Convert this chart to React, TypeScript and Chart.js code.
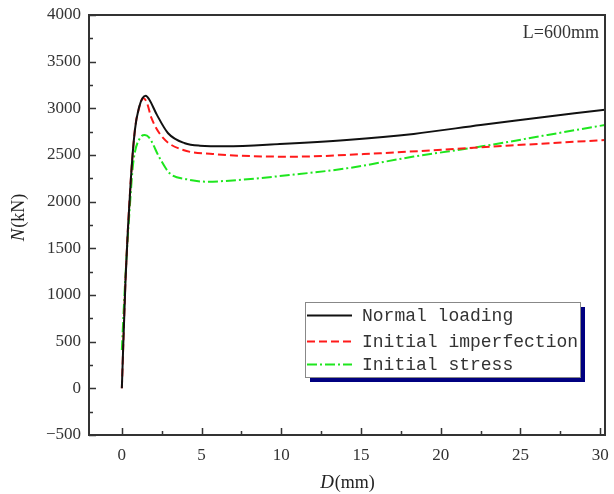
import React, { useEffect, useRef } from "react";
import { Chart, registerables } from "chart.js";

Chart.register(...registerables);

const normalD = [0, 0.23, 0.56, 0.82, 1.09, 1.3, 1.5, 1.7, 2.2, 2.9, 3.95, 4.9, 6.5, 9.9, 14.1, 18.3, 22.5, 24.6, 30.3];
const normalN = [0, 1160, 2230, 2770, 3018, 3110, 3135, 3100, 2930, 2733, 2626, 2600, 2594, 2618, 2661, 2726, 2822, 2868, 2985];

const imperfD = [0, 0.23, 0.56, 0.82, 1.09, 1.34, 1.55, 1.86, 2.6, 3.85, 5.7, 10.5, 16.2, 22.5, 30.3];
const imperfN = [0, 1160, 2230, 2770, 3010, 3108, 3070, 2894, 2680, 2554, 2511, 2482, 2519, 2583, 2661];

const stressD = [0, 0.19, 0.5, 0.71, 1.13, 1.44, 1.7, 2.38, 3.0, 4.06, 5.3, 7.5, 10.5, 14.1, 18.3, 22.5, 26.7, 30.3];
const stressN = [410, 1090, 1946, 2410, 2680, 2715, 2690, 2465, 2304, 2240, 2214, 2235, 2285, 2357, 2483, 2590, 2715, 2822];

const seriesNames = ["Normal loading", "Initial imperfection", "Initial stress"];
const xTickValues = [0, 2.5, 5, 7.5, 10, 12.5, 15, 17.5, 20, 22.5, 25, 27.5, 30];
const xMajor = [0, 5, 10, 15, 20, 25, 30];
const yMin = -500;
const yMax = 4000;
const xMin = -2.06;
const xMax = 30.3;
const noteText = "L=600mm";

const toPts = (xs: number[], ys: number[]) => xs.map((x, i) => ({ x, y: ys[i] }));

const decorPlugin = {
  id: "decor",
  afterDraw(chart: any) {
    const ctx = chart.ctx as CanvasRenderingContext2D;
    const a = chart.chartArea;
    const xs = chart.scales.x;
    const ys = chart.scales.y;
    ctx.save();
    // tick marks inward
    ctx.strokeStyle = "#333";
    ctx.lineWidth = 1.5;
    ctx.beginPath();
    for (const v of xTickValues) {
      const px = Math.round(xs.getPixelForValue(v)) + 0.5;
      const len = xMajor.includes(v) ? 7 : 4;
      ctx.moveTo(px, a.bottom);
      ctx.lineTo(px, a.bottom - len);
    }
    for (let v = yMin; v <= yMax; v += 250) {
      const py = Math.round(ys.getPixelForValue(v)) + 0.5;
      const len = v % 500 === 0 ? 7 : 4;
      ctx.moveTo(a.left, py);
      ctx.lineTo(a.left + len, py);
    }
    ctx.stroke();
    // box
    ctx.strokeStyle = "#333";
    ctx.lineWidth = 2;
    ctx.strokeRect(a.left, a.top, a.right - a.left, a.bottom - a.top);

    // axis titles
    ctx.fillStyle = "#222";
    ctx.textBaseline = "alphabetic";
    const serif = "'Liberation Serif', 'Times New Roman', serif";
    // x title
    const xt1 = "D";
    const xt2 = "(mm)";
    ctx.font = `italic 19px ${serif}`;
    const w1 = ctx.measureText(xt1).width;
    ctx.font = `18px ${serif}`;
    const w2 = ctx.measureText(xt2).width;
    const cx = (a.left + a.right) / 2;
    let sx = cx - (w1 + w2) / 2;
    ctx.font = `italic 19px ${serif}`;
    ctx.fillText(xt1, sx, 488);
    ctx.font = `18px ${serif}`;
    ctx.fillText(xt2, sx + w1 + 1, 488);
    // y title
    ctx.save();
    ctx.translate(24, 218);
    ctx.rotate(-Math.PI / 2);
    const yt1 = "N";
    const yt2 = "(kN)";
    ctx.font = `italic 19px ${serif}`;
    const v1 = ctx.measureText(yt1).width;
    ctx.font = `18px ${serif}`;
    const v2 = ctx.measureText(yt2).width;
    let sy = -(v1 + v2) / 2;
    ctx.font = `italic 19px ${serif}`;
    ctx.fillText(yt1, sy, 0);
    ctx.font = `18px ${serif}`;
    ctx.fillText(yt2, sy + v1 + 1, 0);
    ctx.restore();

    // note
    ctx.font = `18px ${serif}`;
    ctx.textAlign = "right";
    ctx.fillStyle = "#333";
    ctx.fillText(noteText, a.right - 6, 38);
    ctx.textAlign = "left";

    // legend
    const lx = 305, ly = 302, lw = 275, lh = 75;
    ctx.fillStyle = "#000080";
    ctx.fillRect(lx + 5, ly + 5, lw, lh);
    ctx.fillStyle = "#fff";
    ctx.fillRect(lx, ly, lw, lh);
    ctx.strokeStyle = "#888";
    ctx.lineWidth = 1;
    ctx.strokeRect(lx + 0.5, ly + 0.5, lw, lh);
    const rows = [315, 341, 364];
    ctx.font = "18px 'Liberation Mono', monospace";
    ctx.textBaseline = "middle";
    chart.data.datasets.forEach((ds: any, i: number) => {
      const y = rows[i];
      ctx.save();
      ctx.strokeStyle = ds.borderColor;
      ctx.lineWidth = ds.borderWidth;
      ctx.setLineDash(ds.borderDash || []);
      ctx.beginPath();
      ctx.moveTo(307, y + 0.5);
      ctx.lineTo(352, y + 0.5);
      ctx.stroke();
      ctx.restore();
      ctx.fillStyle = "#333";
      ctx.fillText(ds.label, 362, y + 1);
    });
    ctx.restore();
  },
};

export default function App() {
  const ref = useRef<HTMLCanvasElement | null>(null);
  useEffect(() => {
    document.body.style.margin = "0";
    const canvas = ref.current;
    if (!canvas) return;
    const chart = new Chart(canvas, {
      type: "line",
      data: {
        datasets: [
          {
            label: seriesNames[0],
            data: toPts(normalD, normalN),
            borderColor: "#111111",
            borderWidth: 2,
            pointRadius: 0,
            cubicInterpolationMode: "monotone",
            fill: false,
          },
          {
            label: seriesNames[1],
            data: toPts(imperfD, imperfN),
            borderColor: "#ff1a1a",
            borderWidth: 2,
            borderDash: [8, 4],
            pointRadius: 0,
            cubicInterpolationMode: "monotone",
            fill: false,
          },
          {
            label: seriesNames[2],
            data: toPts(stressD, stressN),
            borderColor: "#1ee61e",
            borderWidth: 2,
            borderDash: [10, 3, 2, 3],
            pointRadius: 0,
            cubicInterpolationMode: "monotone",
            fill: false,
          },
        ],
      },
      options: {
        responsive: false,
        animation: false,
        layout: { padding: { top: 15, right: 9, left: 0, bottom: 0 } },
        plugins: { legend: { display: false }, tooltip: { enabled: false } },
        scales: {
          x: {
            type: "linear",
            min: xMin,
            max: xMax,
            grid: { display: false, drawTicks: false },
            border: { display: false },
            afterBuildTicks: (s: any) => {
              s.ticks = xTickValues.map((v) => ({ value: v }));
            },
            afterFit: (s: any) => {
              s.height = 59;
              s.paddingLeft = 0;
              s.paddingRight = 0;
            },
            ticks: {
              autoSkip: false,
              maxRotation: 0,
              padding: 10,
              color: "#333",
              font: { family: "'Liberation Serif', 'Times New Roman', serif", size: 17 },
              callback: (v: any) => (xMajor.includes(Number(v)) ? String(v) : ""),
            },
          },
          y: {
            type: "linear",
            min: yMin,
            max: yMax,
            grid: { display: false, drawTicks: false },
            border: { display: false },
            afterFit: (s: any) => {
              s.width = 89;
              s.paddingTop = 0;
              s.paddingBottom = 0;
            },
            ticks: {
              stepSize: 250,
              autoSkip: false,
              padding: 8,
              color: "#333",
              font: { family: "'Liberation Serif', 'Times New Roman', serif", size: 17 },
              callback: (v: any) => {
                const n = Number(v);
                if (n % 500 !== 0) return "";
                return n < 0 ? "\u2212" + String(-n) : String(n);
              },
            },
          },
        },
      },
      plugins: [decorPlugin],
    } as any);
    return () => chart.destroy();
  }, []);
  return (
    <div style={{ width: 614, height: 494, background: "#fff" }}>
      <canvas ref={ref} width={614} height={494} style={{ display: "block" }} />
    </div>
  );
}
